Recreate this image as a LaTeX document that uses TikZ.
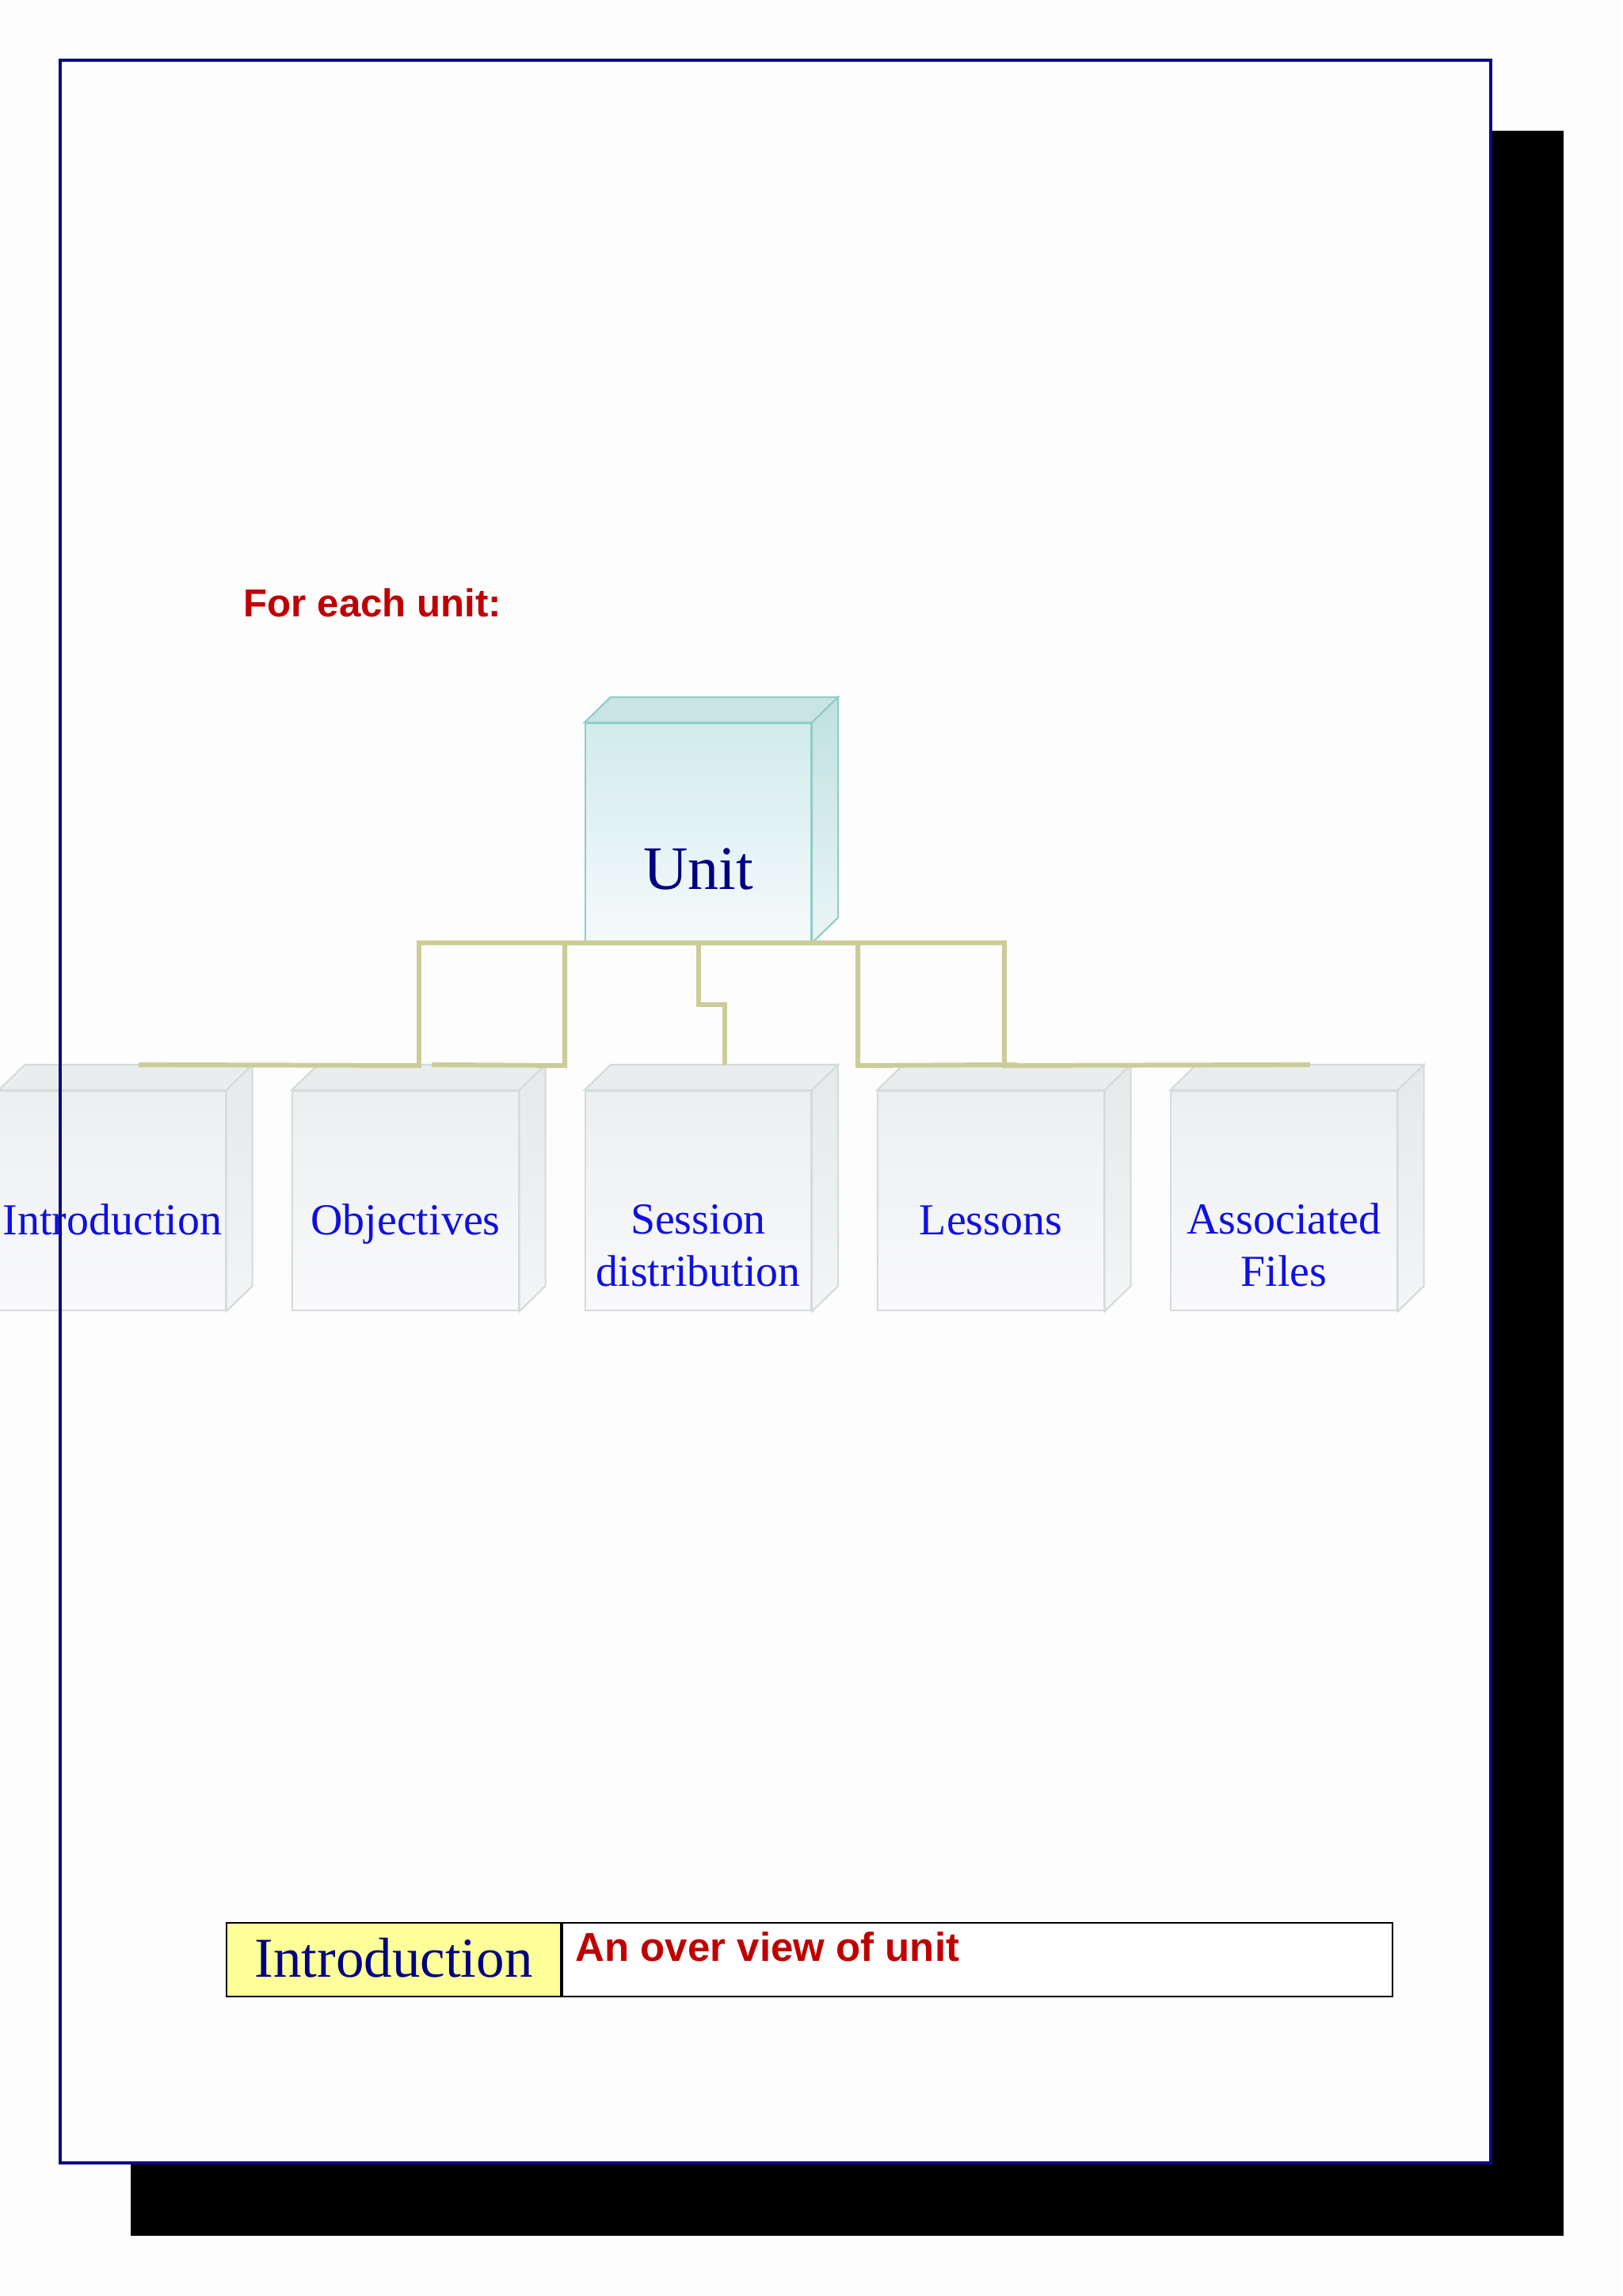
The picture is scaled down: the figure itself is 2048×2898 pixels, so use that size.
\documentclass[tikz,border=0pt]{standalone}
\usepackage{fontspec}
\setmainfont{Liberation Serif}
\setsansfont{Liberation Sans}
\usetikzlibrary{positioning,calc}

\definecolor{pagebg}{HTML}{FDFDFD}
\definecolor{frameblue}{HTML}{0A0A86}
\definecolor{unitnavy}{HTML}{000080}
\definecolor{labelblue}{HTML}{1010E0}
\definecolor{headred}{HTML}{C00000}
\definecolor{linkkhaki}{HTML}{CCCC99}
\definecolor{tealedge}{HTML}{8FCDC8}
\definecolor{greyedge}{HTML}{D5DADA}
\definecolor{cellyellow}{HTML}{FFFF99}

\tikzset{
  unit box/.style={draw=tealedge, line width=0.6pt, top color={rgb,255:red,210;green,235;blue,235},
    bottom color={rgb,255:red,245;green,250;blue,252}, minimum width=2.85cm, minimum height=2.76cm, inner sep=0pt},
  unit top/.style={draw=tealedge, line width=0.6pt, fill={rgb,255:red,200;green,228;blue,228}},
  unit side/.style={draw=tealedge, line width=0.6pt, top color={rgb,255:red,192;green,225;blue,225},
    bottom color={rgb,255:red,234;green,245;blue,245}},
  child box/.style={draw=greyedge, line width=0.6pt, top color={rgb,255:red,236;green,239;blue,240},
    bottom color={rgb,255:red,249;green,249;blue,251}, minimum width=2.85cm, minimum height=2.77cm, inner sep=0pt},
  child top/.style={draw=greyedge, line width=0.6pt, fill={rgb,255:red,234;green,237;blue,237}},
  child side/.style={draw=greyedge, line width=0.6pt, top color={rgb,255:red,229;green,233;blue,234},
    bottom color={rgb,255:red,243;green,245;blue,246}},
  child text/.style={font=\fontsize{15.9}{18.5}\selectfont, text=labelblue, align=center, anchor=base, inner sep=0pt},
  link/.style={draw=linkkhaki, line width=1.7pt},
  cell/.style={draw=black, line width=0.6pt, minimum height=0.93cm, inner sep=0pt},
  red text/.style={font=\sffamily\bfseries\fontsize{14}{16}\selectfont, text=headred, anchor=base west, inner sep=0pt}
}

\begin{document}
\begin{tikzpicture}[x=0.01cm, y=-0.01cm]
  \useasboundingbox[fill=pagebg] (0,0) rectangle (2048,2898);

  % page with its shadow
  \fill[black] (165,165) rectangle (1974,2822);
  \fill[pagebg] (76,76) rectangle (1882,2730);

  \node[red text] at (307,779) (title) {For each unit:};

  % unit
  \node[unit box] at (881.5,1051) (unit) {};
  \path[unit top] (unit.north west) -- ++(33,-32) -- ([shift={(33,-32)}]unit.north east) -- (unit.north east) -- cycle;
  \path[unit side] (unit.north east) -- ++(33,-32) -- ([shift={(33,-32)}]unit.south east) -- (unit.south east) -- cycle;
  \node[font=\fontsize{22.2}{26}\selectfont, text=unitnavy, anchor=base, inner sep=0pt] at ([shift={(0,71)}]unit.center) (unit-t) {Unit};

  % parts of a unit (base is the last line)
  \foreach \name/\px/\dy/\txt in {intro/142/42.5/Introduction, obj/512/42.5/Objectives, sess/881.5/107.5/{Session\\distribution},
                               less/1251/42.5/Lessons, assoc/1621/107.5/{Associated\\Files}} {
    \node[child box] at (\px,1515.5) (\name) {};
    \path[child top] (\name.north west) -- ++(33,-32) -- ([shift={(33,-32)}]\name.north east) -- (\name.north east) -- cycle;
    \path[child side] (\name.north east) -- ++(33,-32) -- ([shift={(33,-32)}]\name.south east) -- (\name.south east) -- cycle;
    \node[child text] at ([shift={(0,\dy)}]\name.center) (\name-t) {\txt};
  }

  \draw[link] (unit.south) -| (529,1345) -- ([shift={(33,-32)}]intro.north);
  \draw[link] (unit.south) -| (713,1345) -- ([shift={(33,-32)}]obj.north);
  \draw[link] (unit.south) -- (881.5,1268) -| ([shift={(33,-32)}]sess.north);
  \draw[link] (unit.south) -| (1083,1345) -- ([shift={(33,-32)}]less.north);
  \draw[link] (unit.south) -| (1268,1345) -- ([shift={(33,-32)}]assoc.north);

  % legend row
  \node[cell, fill=cellyellow, minimum width=4.22cm] at (497,2473.5) (head) {};
  \node[cell, fill=white, minimum width=10.47cm, anchor=west] at (head.east) (desc) {};
  \node[font=\fontsize{20.2}{24}\selectfont, text=unitnavy, anchor=base, inner sep=0pt] at (497,2495) (head-t) {Introduction};
  \node[red text, font=\sffamily\bfseries\fontsize{14.5}{17}\selectfont] at (726,2475) (desc-t) {An over view of unit};

  \draw[frameblue, line width=0.9pt] (76,76) rectangle (1882,2730);
\end{tikzpicture}
\end{document}
